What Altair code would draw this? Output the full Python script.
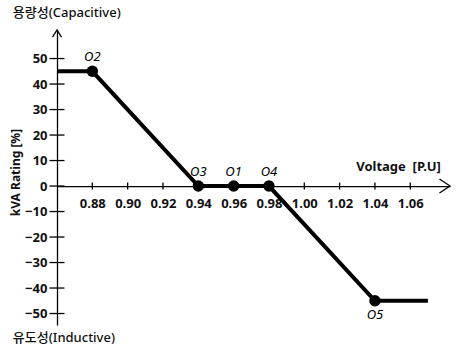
import altair as alt
import pandas as pd

# ---- data ----
line_x = [0.86, 0.88, 0.94, 0.96, 0.98, 1.04, 1.07]
line_y = [45, 45, 0, 0, 0, -45, -45]

pt_names = ["O2", "O3", "O1", "O4", "O5"]
pt_x = [0.88, 0.94, 0.96, 0.98, 1.04]
pt_y = [45, 0, 0, 0, -45]
pt_side = ["above", "above", "above", "above", "below"]

x_ticks = [0.88, 0.90, 0.92, 0.94, 0.96, 0.98, 1.00, 1.02, 1.04, 1.06]
y_ticks = [-50, -40, -30, -20, -10, 0, 10, 20, 30, 40, 50]

x_domain = [0.86, 1.0825]
y_domain = [-54.5, 61.2]

ann_text = ["용량성(Capacitive)", "유도성(Inductive)"]
ann_x = [0.835, 0.835]
ann_y = [67.8, -59.6]

# ---- tables ----
line_df = pd.DataFrame({"x": line_x, "y": line_y, "order": list(range(len(line_x)))})
pt_df = pd.DataFrame({"x": pt_x, "y": pt_y, "name": pt_names, "side": pt_side})
ann_df = pd.DataFrame({"x": ann_x, "y": ann_y, "t": ann_text})
xtick_df = pd.DataFrame({"x": x_ticks, "y": [0] * len(x_ticks)})
ytick_df = pd.DataFrame({"x": [x_domain[0]] * len(y_ticks), "y": y_ticks})
arrow_up_df = pd.DataFrame({"x": [x_domain[0]], "y": [y_domain[1]]})
arrow_right_df = pd.DataFrame({"x": [x_domain[1]], "y": [0]})

FONT = "Noto Sans, Noto Sans CJK KR, sans-serif"
W, H = 393, 295
PAD_TOP = 30
zero_px = (y_domain[1] - 0) / (y_domain[1] - y_domain[0]) * H  # px from top

xs = alt.Scale(domain=x_domain, nice=False, zero=False)
ys = alt.Scale(domain=y_domain, nice=False, zero=False)

X_AXIS = alt.Axis(
    orient="bottom", offset=-(H - zero_px), values=x_ticks, format=".2f",
    grid=False, domain=True, domainColor="black", domainWidth=1.3,
    ticks=False,
    labelFont=FONT, labelFontSize=13, labelFontWeight="bold", labelColor="#111",
    labelPadding=11,
    title="Voltage\u00a0 [P.U]", titleFont=FONT, titleFontSize=13, titleFontWeight="bold",
    titleColor="#111", titleX=341, titleY=-20, titleAlign="center", titleBaseline="middle",
    titleAngle=0)
Y_AXIS = alt.Axis(
    orient="left", values=y_ticks, grid=False, domain=True, domainColor="black",
    domainWidth=1.3, ticks=False,
    labelFont=FONT, labelFontSize=13, labelFontWeight="bold", labelColor="#111",
    labelPadding=10,
    title="kVA Rating [%]", titleFont=FONT, titleFontSize=12, titleFontWeight="bold",
    titleColor="#111", titleX=-41.5, titleY=142, titleAlign="center",
    titleBaseline="middle", titleAngle=-90)

X0 = alt.X("x:Q", scale=xs, axis=X_AXIS)
Y0 = alt.Y("y:Q", scale=ys, axis=Y_AXIS)

line = alt.Chart(line_df).mark_line(color="black", strokeWidth=4, clip=False).encode(
    x=X0, y=Y0, order="order:Q"
)

# crossing tick marks on both axes
xticks = alt.Chart(xtick_df).mark_tick(
    orient="vertical", size=7, thickness=1.3, color="black", opacity=1, clip=False
).encode(x=X0, y=Y0)
yticks = alt.Chart(ytick_df).mark_tick(
    orient="horizontal", size=15, thickness=1.3, color="black", opacity=1, clip=False
).encode(x=X0, y=Y0)

pts = alt.Chart(pt_df).mark_circle(color="black", opacity=1, size=130, clip=False).encode(
    x=X0, y=Y0
)

lab_above = alt.Chart(pt_df).transform_filter(alt.datum.side == "above").mark_text(
    font=FONT, fontSize=13, fontStyle="italic", color="black", dy=-14, clip=False
).encode(x=X0, y=Y0, text="name:N")

lab_below = alt.Chart(pt_df).transform_filter(alt.datum.side == "below").mark_text(
    font=FONT, fontSize=13, fontStyle="italic", color="black", dy=14, clip=False
).encode(x=X0, y=Y0, text="name:N")

ann = alt.Chart(ann_df).mark_text(
    font=FONT, fontSize=13, fontWeight=500, color="#111", align="left", baseline="middle",
    clip=False
).encode(x=X0, y=Y0, text="t:N")

arrow_up = alt.Chart(arrow_up_df).mark_point(
    shape="M-1,1.6L0,0L1,1.6", size=81, filled=False, color="black", strokeWidth=1.3,
    opacity=1, clip=False
).encode(x=X0, y=Y0)

arrow_right = alt.Chart(arrow_right_df).mark_point(
    shape="M-1.5,-1L0,0L-1.5,1", size=196, filled=False, color="black", strokeWidth=1.3,
    opacity=1, clip=False
).encode(x=X0, y=Y0)

chart = alt.layer(
    line, xticks, yticks, pts, lab_above, lab_below, ann, arrow_up, arrow_right
).properties(
    width=W, height=H,
    autosize=alt.AutoSizeParams(type="none"),
    padding={"left": 57, "top": PAD_TOP, "right": 9, "bottom": 29},
    background="white",
).configure_view(stroke=None)

chart.save("out.html", embed_options={"renderer": "svg", "actions": False})
